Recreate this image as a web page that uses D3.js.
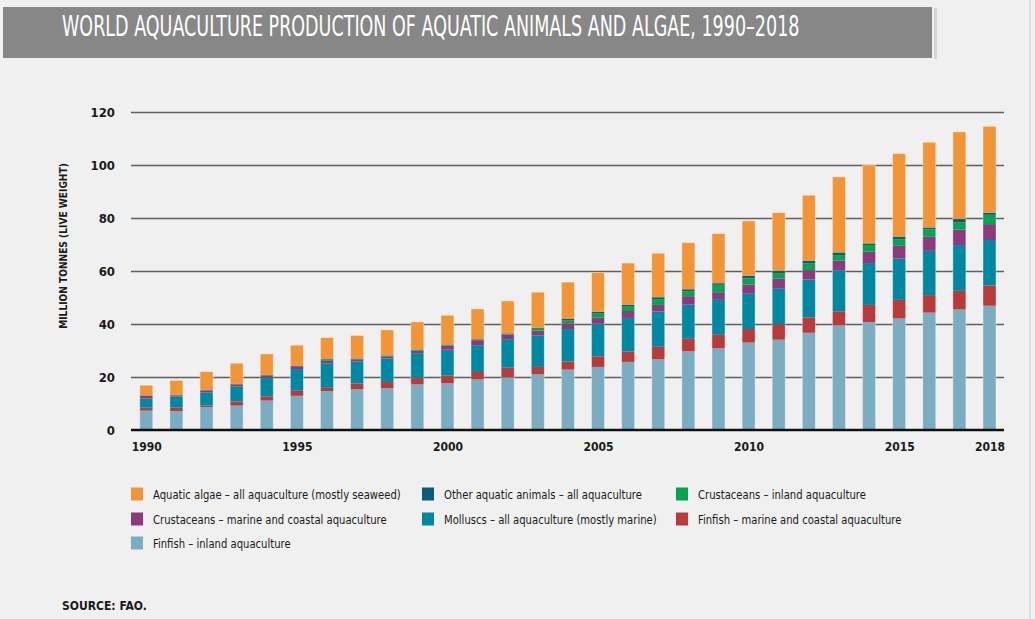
<!DOCTYPE html>
<html>
<head>
<meta charset="utf-8">
<script src="https://cdn.jsdelivr.net/npm/d3@7"></script>
<style>
  html, body { margin: 0; padding: 0; background: #f0f0f0; }
  svg { display: block; }
  text { font-family: 'DejaVu Sans Condensed', 'Liberation Sans Narrow', 'Roboto', sans-serif; font-stretch: condensed; }
</style>
</head>
<body>
<svg id="chart" width="1035" height="619"></svg>
<script>
// ---- Data (million tonnes, live weight) ----
const years = d3.range(1990, 2019);
const tickYears = [1990, 1995, 2000, 2005, 2010, 2015, 2018];
const yTicks = [0, 20, 40, 60, 80, 100, 120];

const finfishInland  = [7.3, 7.1, 8.6, 9.2, 11.1, 12.9, 14.7, 15.4, 15.8, 17.2, 17.6, 19.1, 19.9, 21.0, 22.8, 23.8, 25.7, 26.7, 29.7, 30.8, 33.0, 34.1, 36.7, 39.5, 40.7, 42.1, 44.3, 45.5, 46.9];
const finfishMarine  = [1.1, 1.3, 0.6, 1.6, 1.6, 1.9, 1.2, 2.2, 2.3, 2.4, 2.9, 2.8, 3.6, 2.8, 3.0, 4.0, 3.9, 4.7, 4.7, 5.1, 5.1, 5.8, 5.8, 5.3, 6.5, 7.0, 6.6, 7.0, 7.6];
const molluscs       = [3.5, 4.3, 4.9, 5.7, 6.9, 8.2, 9.3, 8.3, 8.9, 9.4, 9.8, 10.1, 10.8, 11.9, 12.3, 12.3, 12.7, 13.3, 12.9, 13.5, 13.3, 13.6, 14.3, 15.5, 15.8, 15.6, 16.7, 17.3, 17.2];
const crustMarine    = [1.0, 0.4, 0.8, 0.7, 0.8, 1.1, 0.9, 0.8, 0.8, 0.9, 1.6, 1.9, 1.8, 1.8, 2.2, 2.4, 2.6, 2.5, 3.2, 2.6, 3.5, 3.7, 3.6, 3.6, 4.3, 4.8, 5.3, 5.8, 6.0];
const crustInland    = [0.1, 0.1, 0.1, 0.1, 0.2, 0.1, 0.6, 0.2, 0.3, 0.4, 0.3, 0.3, 0.3, 1.0, 1.0, 1.6, 1.9, 2.2, 1.8, 2.8, 2.3, 2.0, 2.5, 2.1, 2.5, 2.5, 2.8, 2.7, 3.5];
const otherAnimals   = [0.1, 0.1, 0.2, 0.1, 0.2, 0.1, 0.1, 0.1, 0.1, 0.1, 0.1, 0.1, 0.1, 0.1, 0.6, 0.5, 0.5, 0.7, 0.8, 0.6, 1.0, 0.8, 0.9, 1.0, 0.6, 1.0, 0.7, 1.3, 0.8];
const aquaticAlgae   = [3.8, 5.4, 6.8, 7.8, 7.9, 7.7, 8.1, 8.7, 9.6, 10.4, 11.0, 11.4, 12.2, 13.4, 13.9, 14.9, 15.7, 16.6, 17.6, 18.7, 20.7, 22.0, 24.8, 28.5, 29.6, 31.3, 32.2, 32.9, 32.6];

// stacking order, bottom to top
const seriesKeys = ["finfishInland", "finfishMarine", "molluscs", "crustMarine", "crustInland", "otherAnimals", "aquaticAlgae"];
const seriesValues = { finfishInland, finfishMarine, molluscs, crustMarine, crustInland, otherAnimals, aquaticAlgae };
const seriesLabels = {
  aquaticAlgae:  "Aquatic algae – all aquaculture (mostly seaweed)",
  otherAnimals:  "Other aquatic animals – all aquaculture",
  crustInland:   "Crustaceans – inland aquaculture",
  crustMarine:   "Crustaceans – marine and coastal aquaculture",
  molluscs:      "Molluscs – all aquaculture (mostly marine)",
  finfishMarine: "Finfish – marine and coastal aquaculture",
  finfishInland: "Finfish – inland aquaculture"
};
const legendOrder = ["aquaticAlgae", "otherAnimals", "crustInland", "crustMarine", "molluscs", "finfishMarine", "finfishInland"];
const colors = {
  finfishInland: "#7badc2",
  finfishMarine: "#b83b39",
  molluscs:      "#0088a2",
  crustMarine:   "#8c3a7b",
  crustInland:   "#00a550",
  otherAnimals:  "#0c5a7c",
  aquaticAlgae:  "#f29537"
};

const svg = d3.select("#chart");

// fit a text element horizontally into a maximum width by scaling it
function fitWidth(sel, maxW, anchorX) {
  sel.each(function () {
    const w = this.getComputedTextLength();
    if (w > maxW) {
      const s = maxW / w;
      d3.select(this).attr("transform", `translate(${anchorX * (1 - s)},0) scale(${s},1)`);
    }
  });
}

// ---- Title bar ----
svg.append("rect").attr("x", 934).attr("y", 8).attr("width", 3).attr("height", 51).attr("fill", "#d6d6d6");
svg.append("rect").attr("x", 3).attr("y", 7).attr("width", 929).attr("height", 51).attr("fill", "#878787");
const title = svg.append("text")
  .attr("x", 62).attr("y", 36)
  .attr("fill", "#ffffff")
  .attr("font-size", 28)
  .attr("font-weight", 500)
  .text("WORLD AQUACULTURE PRODUCTION OF AQUATIC ANIMALS AND ALGAE, 1990–2018");
fitWidth(title, 738, 62);

// right edge line
svg.append("line").attr("x1", 1030).attr("x2", 1030).attr("y1", 0).attr("y2", 619)
  .attr("stroke", "#d9d9d9").attr("stroke-width", 1.5);

// ---- Scales ----
const plotLeft = 131, plotRight = 1004;
const x = d3.scalePoint().domain(years).range([146.3, 989.5]);
const y = d3.scaleLinear().domain([0, 120]).range([430, 112]);
const barW = 13;

// gridlines
const gridAxis = d3.axisLeft(y).tickValues(yTicks.filter(v => v > 0))
  .tickSize(-(plotRight - plotLeft)).tickFormat("");
const grid = svg.append("g").attr("transform", `translate(${plotLeft},0)`).call(gridAxis);
grid.select(".domain").remove();
grid.selectAll("line").attr("stroke", "#5e5e5e").attr("stroke-width", 1.3);

// y tick labels
const yAxis = d3.axisLeft(y).tickValues(yTicks).tickSize(0).tickPadding(0).tickFormat(d3.format("d"));
const yg = svg.append("g").attr("transform", "translate(115,0)").call(yAxis);
yg.select(".domain").remove();
yg.selectAll("text")
  .attr("font-size", 13).attr("font-weight", "bold").attr("fill", "#1a1a1a")
  .attr("dy", "0.35em");

// y axis title
const yTitleG = svg.append("g").attr("transform", "translate(67,246) rotate(-90)");
const yTitle = yTitleG.append("text")
  .attr("x", 0)
  .attr("text-anchor", "middle")
  .attr("font-size", 11).attr("font-weight", "bold").attr("fill", "#1a1a1a")
  .text("MILLION TONNES (LIVE WEIGHT)");
fitWidth(yTitle, 166, 0);

// ---- Stacked bars ----
const rows = years.map((yr, i) => {
  const r = { year: yr };
  seriesKeys.forEach(k => r[k] = seriesValues[k][i]);
  return r;
});
const stack = d3.stack().keys(seriesKeys)(rows);

svg.append("g").selectAll("g")
  .data(stack)
  .join("g")
  .attr("fill", d => colors[d.key])
  .selectAll("rect")
  .data(d => d)
  .join("rect")
  .attr("x", d => x(d.data.year) - barW / 2)
  .attr("width", barW)
  .attr("y", d => y(d[1]))
  .attr("height", d => y(d[0]) - y(d[1]));

// bar light edge
svg.append("g").selectAll("rect")
  .data(rows)
  .join("rect")
  .attr("x", d => x(d.year) - barW / 2)
  .attr("width", barW)
  .attr("y", d => y(d3.sum(seriesKeys, k => d[k])))
  .attr("height", d => y(0) - y(d3.sum(seriesKeys, k => d[k])))
  .attr("fill", "none")
  .attr("stroke", "rgba(255,255,255,0.45)")
  .attr("stroke-width", 0.8);

// baseline
svg.append("line")
  .attr("x1", plotLeft).attr("x2", plotRight)
  .attr("y1", y(0)).attr("y2", y(0))
  .attr("stroke", "#111").attr("stroke-width", 2.4);

// x labels
const xAxis = d3.axisBottom(x).tickValues(tickYears).tickSize(0).tickPadding(0);
const xg = svg.append("g").attr("transform", "translate(0,442)").call(xAxis);
xg.select(".domain").remove();
xg.selectAll("text")
  .attr("font-size", 12).attr("font-weight", "bold").attr("fill", "#1a1a1a")
  .attr("dy", "0.71em");

// ---- Legend ----
const legCols = [131, 422, 676];
const legRows = [494, 519, 543];
const leg = svg.append("g").selectAll("g")
  .data(legendOrder)
  .join("g")
  .attr("transform", (d, i) => `translate(${legCols[i % 3]},${legRows[Math.floor(i / 3)]})`);
leg.append("rect")
  .attr("x", 0).attr("y", -6.5).attr("width", 12).attr("height", 13)
  .attr("fill", d => colors[d]);
const legCondense = 0.86;
leg.append("text")
  .attr("x", 22).attr("y", 0).attr("dy", "0.35em")
  .attr("font-size", 13).attr("fill", "#1a1a1a")
  .attr("transform", `translate(${22 * (1 - legCondense)},0) scale(${legCondense},1)`)
  .text(d => seriesLabels[d]);

// ---- Source ----
svg.append("text")
  .attr("x", 62).attr("y", 610)
  .attr("font-size", 12).attr("font-weight", "bold").attr("fill", "#1a1a1a")
  .text("SOURCE: FAO.");
</script>
</body>
</html>
